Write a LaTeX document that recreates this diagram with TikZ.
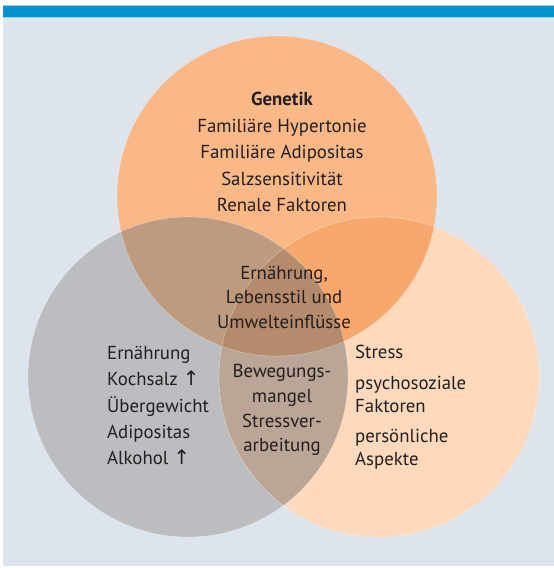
\documentclass[tikz,border=0pt]{standalone}
\usepackage{fontspec}
\setmainfont{PT Sans}
\newfontfamily\arrowfont{DejaVu Sans}
\definecolor{panel}{HTML}{DDE4EC}
\definecolor{bar}{HTML}{0092CF}
\definecolor{barlight}{HTML}{9FD3EC}
\definecolor{topc}{HTML}{FBB887}
\definecolor{leftc}{HTML}{BCBDC1}
\definecolor{rightc}{HTML}{FED9BB}
\definecolor{tlc}{HTML}{BE9B7F}
\definecolor{trc}{HTML}{F8A86D}
\definecolor{lrc}{HTML}{BAA596}
\definecolor{allc}{HTML}{B48B6C}
\definecolor{txtc}{HTML}{231F20}
\tikzset{
  txt/.style={text=txtc, inner sep=0pt, font=\fontsize{18.8bp}{26.5bp}\selectfont},
  edge/.style={draw=white, draw opacity=0.3, line width=0.6bp}
}
\begin{document}
\begin{tikzpicture}[x=1bp,y=-1bp]
\useasboundingbox (0,0) rectangle (554,568);
\fill[white] (0,0) rectangle (554,568);
\fill[panel] (2.7,17.5) rectangle (554,566);
\fill[barlight] (2.7,5.2) rectangle (554,17.6);
\fill[bar] (2.7,6.3) rectangle (554,16.6);
\coordinate (cG) at (277,196);
\coordinate (cL) at (188,377);
\coordinate (cR) at (379,377);
\fill[topc] (cG) circle[radius=160bp];
\fill[leftc] (cL) circle[radius=160bp];
\fill[rightc] (cR) circle[radius=160bp];
\begin{scope}
  \clip (cG) circle[radius=160bp];
  \fill[tlc] (cL) circle[radius=160bp];
  \fill[trc] (cR) circle[radius=160bp];
\end{scope}
\begin{scope}
  \clip (cL) circle[radius=160bp];
  \fill[lrc] (cR) circle[radius=160bp];
\end{scope}
\begin{scope}
  \clip (cG) circle[radius=160bp];
  \clip (cL) circle[radius=160bp];
  \fill[allc] (cR) circle[radius=160bp];
\end{scope}
\draw[edge] (cG) circle[radius=160bp];
\draw[edge] (cL) circle[radius=160bp];
\draw[edge] (cR) circle[radius=160bp];

\node[txt, align=center] (genetik) at (282,152)
  {\textbf{Genetik}\\Familiäre Hypertonie\\Familiäre Adipositas\\Salzsensitivität\\Renale Faktoren};
\node[txt, align=center, font=\fontsize{18.8bp}{24.5bp}\selectfont] (mitte) at (284,297)
  {Ernährung,\\Lebensstil und\\Umwelteinflüsse};
\node[txt, align=left, anchor=west, font=\fontsize{18.8bp}{26.3bp}\selectfont] (links) at (107,405.5)
  {Ernährung\\Kochsalz {\arrowfont\fontsize{20bp}{20bp}\selectfont ↑}\\Übergewicht\\Adipositas\\Alkohol {\arrowfont\fontsize{20bp}{20bp}\selectfont ↑}};
\node[txt, align=center, font=\fontsize{18.8bp}{24.7bp}\selectfont] (unten) at (282,410)
  {Bewegungs-\\mangel\\Stressver-\\arbeitung};
\node[txt, align=left, anchor=west, font=\fontsize{18.8bp}{23bp}\selectfont] (rechts) at (355,407)
  {Stress\\[8bp]psychosoziale\\Faktoren\\[7bp]persönliche\\Aspekte};
\end{tikzpicture}
\end{document}
